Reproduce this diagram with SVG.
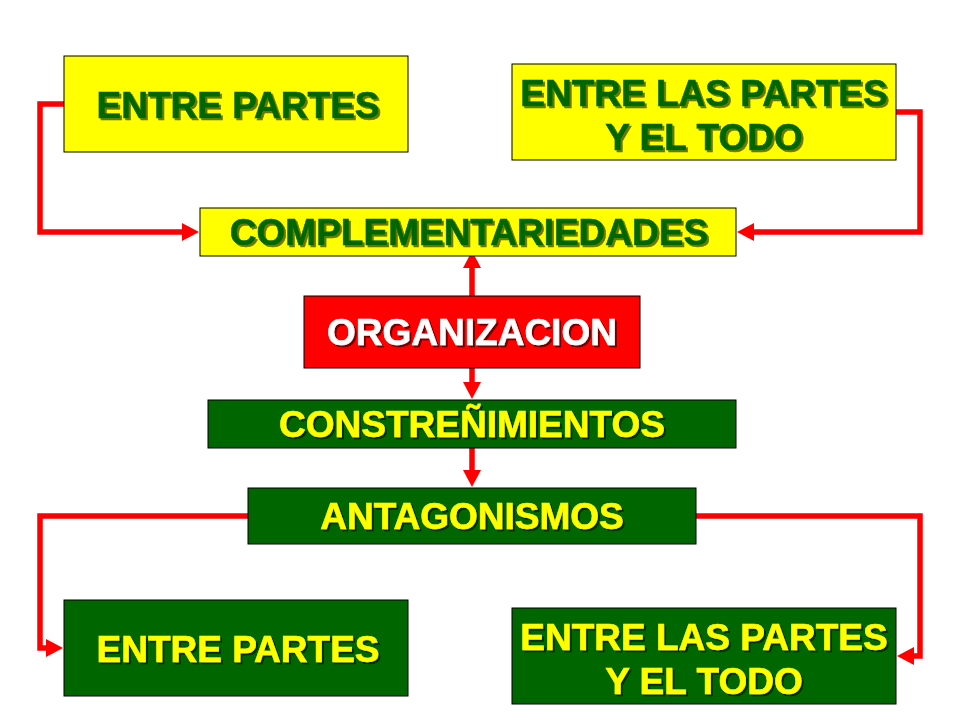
<svg xmlns="http://www.w3.org/2000/svg" width="960" height="720" viewBox="0 0 960 720">
  <style>
    .box { stroke: #000000; stroke-width: 1; }
    .yellow { fill: #FFFF00; }
    .green { fill: #006600; }
    .red { fill: #FF0000; }
    .label { font-family: "Liberation Sans", Arial, sans-serif; font-weight: bold; font-size: 37px; text-anchor: middle; filter: url(#shadow); stroke-width: 0.6; }
    .tg { fill: #006600; stroke: #006600; }
    .ty { fill: #FFFF00; stroke: #FFFF00; }
    .tw { fill: #FFFFFF; stroke: #FFFFFF; }
    .conn { fill: none; stroke: #FF0000; stroke-width: 5.5; stroke-linejoin: miter; marker-end: url(#arrow); }
  </style>
  <defs>
    <filter id="shadow" x="-10%" y="-30%" width="120%" height="160%">
      <feDropShadow dx="2" dy="2" stdDeviation="0.6" flood-color="#000000" flood-opacity="0.55"/>
    </filter>
    <marker id="arrow" markerUnits="userSpaceOnUse" markerWidth="17" markerHeight="18" viewBox="0 0 17 18" refX="0" refY="9" orient="auto">
      <path d="M0,0 L17,9 L0,18 Z" fill="#FF0000"/>
    </marker>
  </defs>
  <rect width="960" height="720" fill="#FFFFFF"/>

  <g id="connectors">
    <path class="conn" d="M64,104 H40 V232 H182"/>
    <path class="conn" d="M896,112 H920 V232 H754"/>
    <path class="conn" d="M472,296 V268"/>
    <path class="conn" d="M472,368 V382"/>
    <path class="conn" d="M472,448 V470"/>
    <path class="conn" d="M248,516 H40 V648 H46"/>
    <path class="conn" d="M696,516 H920 V656 H914"/>
  </g>

  <g id="entre-partes-top">
    <rect class="box yellow" x="64" y="56" width="344" height="96"/>
    <text class="label tg" x="238" y="118">ENTRE PARTES</text>
  </g>
  <g id="entre-las-partes-top">
    <rect class="box yellow" x="512" y="64" width="384" height="96"/>
    <text class="label tg" x="704" y="106">ENTRE LAS PARTES</text>
    <text class="label tg" x="704" y="150">Y EL TODO</text>
  </g>
  <g id="complementariedades">
    <rect class="box yellow" x="200" y="208" width="536" height="48"/>
    <text class="label tg" x="469" y="245">COMPLEMENTARIEDADES</text>
  </g>
  <g id="organizacion">
    <rect class="box red" x="304" y="296" width="336" height="72"/>
    <text class="label tw" x="472" y="345">ORGANIZACION</text>
  </g>
  <g id="constrenimientos">
    <rect class="box green" x="208" y="400" width="528" height="48"/>
    <text class="label ty" x="472" y="437">CONSTREÑIMIENTOS</text>
  </g>
  <g id="antagonismos">
    <rect class="box green" x="248" y="488" width="448" height="56"/>
    <text class="label ty" x="472" y="529">ANTAGONISMOS</text>
  </g>
  <g id="entre-partes-bottom">
    <rect class="box green" x="64" y="600" width="344" height="96"/>
    <text class="label ty" x="238" y="662">ENTRE PARTES</text>
  </g>
  <g id="entre-las-partes-bottom">
    <rect class="box green" x="512" y="608" width="384" height="96"/>
    <text class="label ty" x="704" y="650">ENTRE LAS PARTES</text>
    <text class="label ty" x="704" y="694">Y EL TODO</text>
  </g>
</svg>
